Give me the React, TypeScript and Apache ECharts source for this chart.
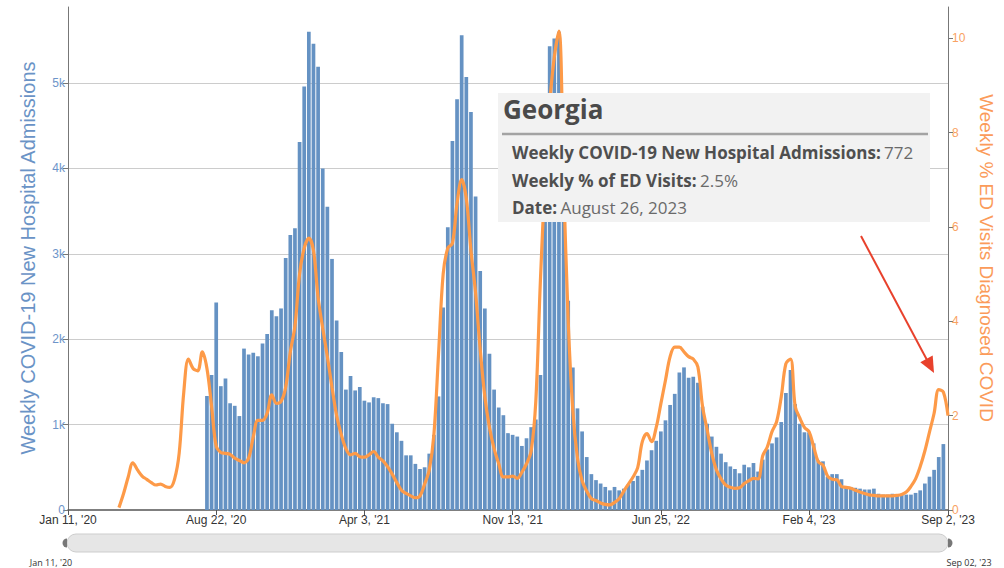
import React, { useEffect, useRef } from 'react';
import * as echarts from 'echarts';

// ---------- data ----------
const firstWeek = '2020-01-11';
const lastWeek = '2023-09-02';
const tickLabels = ["Jan 11, '20", "Aug 22, '20", "Apr 3, '21", "Nov 13, '21", "Jun 25, '22", "Feb 4, '23", "Sep 2, '23"];
const tickDates = ['2020-01-11', '2020-08-22', '2021-04-03', '2021-11-13', '2022-06-25', '2023-02-04', '2023-09-02'];

// Weekly COVID-19 new hospital admissions, from week of Aug 8, 2020
const admissionsStart = '2020-08-08';
const admissions = [
  1335, 1580, 2430, 1450, 1540, 1250, 1220, 1100, 1890, 1820,
  1840, 1800, 1950, 2060, 2340, 2270, 2360, 2950, 3220, 3300,
  4310, 4960, 5600, 5460, 5190, 4000, 3550, 2940, 2220, 1850,
  1410, 1570, 1400, 1440, 1280, 1260, 1320, 1310, 1250, 1240,
  1010, 910, 810, 640, 640, 540, 480, 500, 660, 880,
  1330, 2370, 3310, 4320, 4810, 5560, 5070, 4660, 3670, 2800,
  2360, 1830, 1410, 1200, 1110, 900, 880, 860, 750, 840,
  970, 1060, 1580, 4200, 5430, 5520, 5600, 4000, 2450, 1670,
  1190, 920, 620, 420, 350, 310, 270, 230, 270, 230,
  250, 300, 340, 400, 470, 580, 700, 810, 920, 1050,
  1230, 1360, 1610, 1670, 1550, 1560, 1490, 1210, 1010, 860,
  740, 660, 560, 510, 480, 430, 530, 500, 550, 450,
  590, 710, 780, 850, 1030, 1370, 1640, 1240, 1010, 910,
  910, 780, 580, 570, 390, 420, 420, 360, 270, 270,
  260, 250, 240, 240, 250, 190, 180, 180, 190, 180,
  190, 180, 180, 200, 230, 310, 390, 470, 620, 772,
];

// Weekly % of ED visits diagnosed COVID, from week of Mar 28, 2020
const edStart = '2020-03-28';
const edVisits = [
  0.05, 0.35, 0.7, 1.0, 0.85, 0.72, 0.65, 0.58, 0.53, 0.55,
  0.5, 0.48, 0.65, 1.2, 2.5, 3.2, 3.0, 2.95, 3.35, 3.0,
  2.2, 1.35, 1.22, 1.2, 1.18, 1.1, 1.05, 1.0, 1.1, 1.55,
  1.9, 1.9, 2.05, 2.44, 2.26, 2.3, 2.6, 3.35, 3.9, 5.0,
  5.55, 5.76, 5.5, 4.5, 3.85, 3.25, 2.6, 2.0, 1.6, 1.3,
  1.17, 1.2, 1.13, 1.12, 1.17, 1.24, 1.12, 1.04, 0.92, 0.76,
  0.58, 0.42, 0.35, 0.3, 0.26, 0.3, 0.55, 0.85, 1.6, 3.3,
  5.0, 5.55, 5.65, 6.5, 7.0, 6.6, 5.5, 4.6, 3.4, 2.4,
  1.75, 1.3, 0.98, 0.7, 0.7, 0.72, 0.67, 0.8, 0.98, 1.25,
  2.3, 4.87, 7.0, 8.6, 9.6, 10.15, 7.0, 4.0, 2.1, 1.1,
  0.62, 0.4, 0.24, 0.2, 0.15, 0.12, 0.11, 0.16, 0.24, 0.4,
  0.55, 0.7, 0.9, 1.45, 1.62, 1.45, 1.75, 2.25, 2.75, 3.25,
  3.45, 3.45, 3.35, 3.25, 3.2, 3.03, 2.2, 1.7, 1.2, 0.85,
  0.66, 0.53, 0.48, 0.46, 0.47, 0.56, 0.62, 0.67, 0.66, 1.15,
  1.34, 1.66, 1.87, 2.4, 3.1, 3.2, 2.2, 1.95, 1.75, 1.66,
  1.34, 1.02, 0.95, 0.72, 0.65, 0.64, 0.5, 0.48, 0.46, 0.42,
  0.38, 0.35, 0.32, 0.31, 0.3, 0.3, 0.3, 0.3, 0.31, 0.33,
  0.38, 0.5, 0.66, 0.92, 1.25, 1.65, 2.05, 2.55, 2.5, 2.0,
];

const tooltipState = 'Georgia';
const tooltipRows = [
  ['Weekly COVID-19 New Hospital Admissions:', '772'],
  ['Weekly % of ED Visits:', '2.5%'],
  ['Date:', 'August 26, 2023'],
];
const navigatorLabels = ["Jan 11, '20", "Sep 02, '23"];

// ---------- helpers ----------
const DAY = 864e5;
const weekIndex = (d: string) => Math.round((Date.parse(d) - Date.parse(firstWeek)) / (7 * DAY));
const weekCount = weekIndex(lastWeek) + 1;
const categories: string[] = [];
for (let i = 0; i < weekCount; i++) {
  categories.push(new Date(Date.parse(firstWeek) + i * 7 * DAY).toISOString().slice(0, 10));
}
const tickIdx = tickDates.map(weekIndex);
const pad = (start: string, vals: number[]) => {
  const s = weekIndex(start);
  return categories.map((_, i) => (i >= s && i - s < vals.length ? vals[i - s] : null));
};
const barData = pad(admissionsStart, admissions);
const lineData = pad(edStart, edVisits);

const BLUE = '#6592c3';
const ORANGE = '#fd9a48';
const AXIS_FONT = '"Liberation Sans", Arial, sans-serif';
const TIP_FONT = '"Open Sans", "Noto Sans", sans-serif';

export default function App() {
  const ref = useRef<HTMLDivElement>(null);
  useEffect(() => {
    if (!ref.current) return;
    const chart = echarts.init(ref.current, undefined, { renderer: 'svg' });
    const gridLeft = 68;
    const gridRight = 948;
    const option: any = {
      animation: false,
      textStyle: { fontFamily: AXIS_FONT },
      grid: { left: gridLeft, right: 1004 - gridRight, top: 7, bottom: 58, containLabel: false },
      xAxis: {
        type: 'category',
        data: categories,
        boundaryGap: false,
        axisLine: { lineStyle: { color: '#555', width: 1.5 } },
        axisTick: {
          length: 5,
          lineStyle: { color: '#555' },
          interval: (i: number) => tickIdx.includes(i),
        },
        axisLabel: {
          interval: (i: number) => tickIdx.includes(i),
          formatter: (_v: string, i: number) => tickLabels[tickIdx.indexOf(i)] ?? '',
          color: '#333',
          fontSize: 12,
          margin: 4,
          fontFamily: AXIS_FONT,
        },
        splitLine: { show: false },
      },
      yAxis: [
        {
          type: 'value',
          min: 0,
          max: 5890,
          interval: 1000,
          axisLine: { show: true, lineStyle: { color: '#777' } },
          axisTick: { show: true, length: 5, lineStyle: { color: '#777' } },
          axisLabel: {
            color: '#6d94c9',
            fontSize: 12,
            margin: 3,
            showMaxLabel: false,
            formatter: (v: number) => (v === 0 ? '0' : v % 1000 === 0 ? v / 1000 + 'k' : ''),
          },
          splitLine: { show: true, showMaxLine: false, showMinLine: false, lineStyle: { color: '#cccccc', width: 1 } },
        },
        {
          type: 'value',
          position: 'right',
          min: 0,
          max: 10.66,
          interval: 2,
          axisLine: { show: true, lineStyle: { color: '#777' } },
          axisTick: { show: true, length: 5, lineStyle: { color: '#777' } },
          axisLabel: {
            color: '#f9a262',
            fontSize: 12,
            margin: 4,
            showMaxLabel: false,
            formatter: (v: number) => (v % 2 === 0 ? String(v) : ''),
          },
          splitLine: { show: false },
        },
      ],
      series: [
        {
          type: 'bar',
          data: barData,
          yAxisIndex: 0,
          barWidth: '80%',
          itemStyle: { color: BLUE },
          z: 2,
        },
        {
          type: 'line',
          data: lineData,
          yAxisIndex: 1,
          smooth: 0.35,
          showSymbol: false,
          symbol: 'none',
          lineStyle: { color: ORANGE, width: 3.2 },
          z: 3,
        },
      ],
      graphic: [
        // axis titles
        {
          type: 'text', x: 28, y: 258, rotation: Math.PI / 2, z: 50,
          style: { text: 'Weekly COVID-19 New Hospital Admissions', font: `20px ${AXIS_FONT}`, fill: '#6a93c6', align: 'center', verticalAlign: 'middle', textAlign: 'center', textVerticalAlign: 'middle' },
        },
        {
          type: 'text', x: 986, y: 258, rotation: -Math.PI / 2, z: 50,
          style: { text: 'Weekly % ED Visits Diagnosed COVID', font: `19px ${AXIS_FONT}`, fill: '#fb9b5a', align: 'center', verticalAlign: 'middle', textAlign: 'center', textVerticalAlign: 'middle' },
        },
        // tooltip box
        {
          type: 'group', z: 100,
          children: [
            { type: 'rect', shape: { x: 498, y: 93, width: 432, height: 129 }, style: { fill: '#f2f2f2' }, z: 100 },
            {
              type: 'text', x: 503, y: 109, z: 101,
              style: { text: tooltipState, font: `bold 26px ${TIP_FONT}`, fill: '#4a4a4a', align: 'left', verticalAlign: 'middle', textAlign: 'left', textVerticalAlign: 'middle' },
            },
            { type: 'line', shape: { x1: 502, y1: 134, x2: 928, y2: 134 }, style: { stroke: '#a3a3a3', lineWidth: 2.5 }, z: 101 },
            ...tooltipRows.map((r, k) => ({
              type: 'text', x: 512, y: [152, 180, 207][k], z: 101,
              style: {
                text: `{b|${r[0]}} {v|${r[1]}}`,
                align: 'left', verticalAlign: 'middle', textAlign: 'left', textVerticalAlign: 'middle',
                rich: {
                  b: { font: `bold 17px ${TIP_FONT}`, fill: '#4f4f4f', fontFamily: TIP_FONT, fontWeight: 'bold', fontSize: 17, color: '#4f4f4f' },
                  v: { font: `17px ${TIP_FONT}`, fill: '#6a6a6a', fontFamily: TIP_FONT, fontSize: 17, color: '#6a6a6a' },
                },
              },
            })),
          ],
        },
        // red arrow
        { type: 'line', z: 90, shape: { x1: 861, y1: 236, x2: 927, y2: 360 }, style: { stroke: '#e8412c', lineWidth: 2 } },
        { type: 'polygon', z: 90, shape: { points: [[934, 373], [920.3, 362.2], [932.7, 355.6]] }, style: { fill: '#e8412c' } },
        // navigator
        { type: 'rect', z: 40, shape: { x: 67, y: 534, width: 881, height: 18, r: 9 }, style: { fill: '#e6e6e6', stroke: '#cdcdcd', lineWidth: 1 } },
        { type: 'sector', z: 41, shape: { cx: 67, cy: 543, r: 4.5, r0: 0, startAngle: Math.PI / 2, endAngle: (3 * Math.PI) / 2 }, style: { fill: '#777' } },
        { type: 'sector', z: 41, shape: { cx: 948, cy: 543, r: 4.5, r0: 0, startAngle: -Math.PI / 2, endAngle: Math.PI / 2 }, style: { fill: '#777' } },
        {
          type: 'text', x: 51, y: 562, z: 41,
          style: { text: navigatorLabels[0], font: `9px ${TIP_FONT}`, fill: '#333', align: 'center', verticalAlign: 'middle', textAlign: 'center', textVerticalAlign: 'middle' },
        },
        {
          type: 'text', x: 969, y: 562, z: 41,
          style: { text: navigatorLabels[1], font: `9px ${TIP_FONT}`, fill: '#333', align: 'center', verticalAlign: 'middle', textAlign: 'center', textVerticalAlign: 'middle' },
        },
      ],
    };
    chart.setOption(option);
    return () => chart.dispose();
  }, []);
  return <div ref={ref} style={{ position: 'fixed', left: 0, top: 0, width: 1004, height: 568, background: '#fff' }} />;
}
